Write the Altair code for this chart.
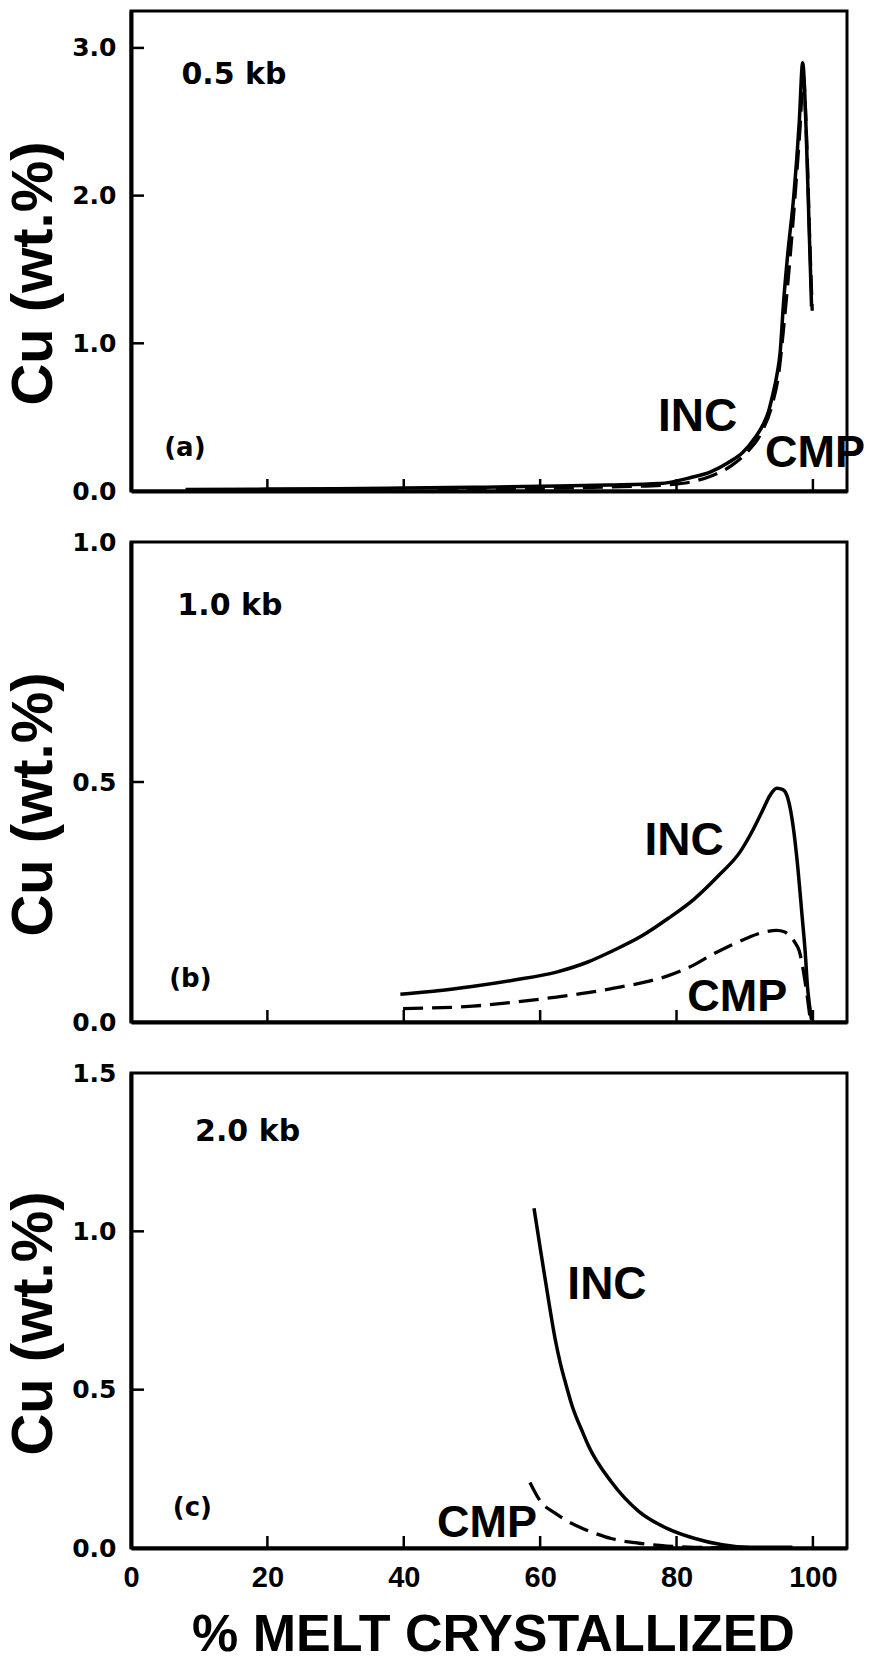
import altair as alt
import pandas as pd

FONT = "Liberation Sans"
FONT2 = "DejaVu Sans"

# ---------------- data ----------------
X_TICKS = [20, 40, 60, 80, 100]
X_LABELS = [0, 20, 40, 60, 80, 100]

# (a) 0.5 kb
INC_A_X = [8, 20, 30, 40, 50, 60, 70, 77.5, 82, 85, 87.5, 89.7, 91.5, 92.7, 93.5, 94.1, 94.7, 95.2, 95.7, 96.3, 97.2, 98.0, 98.5, 99.0, 99.4, 99.8]
INC_A_Y = [0.01, 0.013, 0.016, 0.02, 0.025, 0.032, 0.04, 0.05, 0.09, 0.13, 0.19, 0.26, 0.36, 0.45, 0.54, 0.65, 0.78, 0.94, 1.28, 1.6, 2.0, 2.5, 2.9, 2.45, 1.85, 1.25]
CMP_A_X = [45, 55, 65, 72, 78, 82, 85, 88, 90.5, 92.5, 94, 95, 95.8, 96.5, 97.3, 98.1, 98.6, 99.1, 99.5, 99.9]
CMP_A_Y = [0.01, 0.015, 0.022, 0.03, 0.04, 0.06, 0.1, 0.17, 0.27, 0.4, 0.58, 0.8, 1.15, 1.5, 1.95, 2.45, 2.8, 2.35, 1.75, 1.22]

# (b) 1.0 kb
INC_B_X = [39.5, 45, 50, 56, 62.4, 67, 70.6, 75, 78.7, 82.5, 86.1, 89.4, 91.2, 92.6, 93.7, 94.7, 95.6, 96.3, 97.1, 97.8, 98.4, 98.9, 99.2, 99.5, 99.8]
INC_B_Y = [0.058, 0.065, 0.074, 0.087, 0.104, 0.125, 0.148, 0.18, 0.215, 0.255, 0.304, 0.356, 0.40, 0.44, 0.472, 0.487, 0.484, 0.467, 0.408, 0.32, 0.223, 0.14, 0.074, 0.035, 0.004]
CMP_B_X = [39.9, 50.1, 56, 62.4, 67, 70.6, 75, 78.7, 82, 85.3, 88, 90.2, 92.5, 94.7, 95.8, 96.7, 97.4, 98.0, 98.5, 98.8, 99.2, 99.6]
CMP_B_Y = [0.028, 0.033, 0.041, 0.052, 0.061, 0.070, 0.082, 0.096, 0.115, 0.141, 0.16, 0.174, 0.186, 0.191, 0.188, 0.178, 0.165, 0.148, 0.115, 0.089, 0.05, 0.007]

# (c) 2.0 kb
INC_C_X = [59.1, 60.1, 61.4, 62.2, 63.0, 63.8, 64.6, 66.3, 67.1, 70.4, 74.5, 78.6, 82.7, 86.7, 90.8, 97]
INC_C_Y = [1.073, 0.935, 0.76, 0.66, 0.58, 0.515, 0.455, 0.362, 0.322, 0.21, 0.115, 0.062, 0.03, 0.01, 0.002, 0.002]
CMP_C_X = [58.5, 60.1, 62.2, 64, 66.3, 68.5, 70.4, 74.5, 78.6, 82.7, 88, 95]
CMP_C_Y = [0.207, 0.146, 0.110, 0.085, 0.061, 0.043, 0.030, 0.015, 0.006, 0.002, 0.001, 0.001]

PRESSURES = ["0.5 kb", "1.0 kb", "2.0 kb"]
PANEL_TAGS = ["(a)", "(b)", "(c)"]
Y_DOMAINS = [[0, 3.25], [0, 1.0], [0, 1.5]]
Y_LABELS = [[0, 1, 2, 3], [0, 0.5, 1.0], [0, 0.5, 1.0, 1.5]]
Y_TICKS = [[1, 2, 3], [0.5], [0.5, 1.0]]

# label positions (data coords)
PRESS_POS = [(7.4, 2.82), (6.8, 0.866), (9.4, 1.315)]
TAG_POS = [(7.9, 0.29), (8.7, 0.09), (9.0, 0.125)]
INC_POS = [(83.1, 0.50), (81.1, 0.378), (69.8, 0.83)]
CMP_POS = [(100.3, 0.26), (88.9, 0.052), (52.2, 0.079)]

HEIGHTS = [480, 480, 475]
TITLE_Y = [262, 262, 250]
W = 716


def panel(i, inc_x, inc_y, cmp_x, cmp_y, bottom):
    H = HEIGHTS[i]
    xdom = [0, 105]
    ydom = Y_DOMAINS[i]
    xscale = alt.Scale(domain=xdom, nice=False, zero=False)
    yscale = alt.Scale(domain=ydom, nice=False)

    if bottom:
        xaxis = alt.Axis(values=X_LABELS, format="d", ticks=False, tickSize=0, grid=False,
                         domain=True, domainColor="black", domainWidth=4,
                         labelFont=FONT, labelFontSize=29, labelFontWeight="bold", labelColor="black",
                         labelPadding=15, labelFlush=False, labelOverlap=False,
                         title="% MELT CRYSTALLIZED", titleFont=FONT, titleFontSize=52,
                         titleFontWeight="bold", titleColor="black",
                         titleX=362, titleY=102, titleAlign="center", titleBaseline="alphabetic")
    else:
        xaxis = alt.Axis(labels=False, ticks=False, tickSize=0, grid=False, domain=True,
                         domainColor="black", domainWidth=4, title=None)

    yaxis = alt.Axis(values=Y_LABELS[i], format=".1f", ticks=False, tickSize=0, grid=False,
                     domain=True, domainColor="black", domainWidth=4,
                     labelFont=FONT2, labelFontSize=25, labelFontWeight="bold", labelColor="black",
                     labelPadding=15, labelFlush=False, labelOverlap=False,
                     title="Cu   (wt.%)", titleFont=FONT, titleFontSize=58, titleFontWeight="bold",
                     titleColor="black", titleX=-80, titleY=TITLE_Y[i], titleAlign="center",
                     titleBaseline="alphabetic")

    inc = pd.DataFrame({"x": inc_x, "y": inc_y, "o": range(len(inc_x))})
    cmp_ = pd.DataFrame({"x": cmp_x, "y": cmp_y, "o": range(len(cmp_x))})

    base_inc = alt.Chart(inc).mark_line(color="black", strokeWidth=3.5, interpolate="monotone").encode(
        x=alt.X("x:Q", scale=xscale, axis=xaxis),
        y=alt.Y("y:Q", scale=yscale, axis=yaxis),
        order="o:Q",
    )
    line_cmp = alt.Chart(cmp_).mark_line(color="black", strokeWidth=3.3, strokeDash=[20, 9],
                                         interpolate="monotone").encode(
        x=alt.X("x:Q", scale=xscale),
        y=alt.Y("y:Q", scale=yscale),
        order="o:Q",
    )

    xt = pd.DataFrame({"x": X_TICKS})
    xticks = alt.Chart(xt).mark_rule(color="black", strokeWidth=2.5).encode(
        x=alt.X("x:Q", scale=xscale), y=alt.value(H), y2=alt.value(H - 12))
    yt = pd.DataFrame({"y": Y_TICKS[i]})
    yticks = alt.Chart(yt).mark_rule(color="black", strokeWidth=2.5).encode(
        y=alt.Y("y:Q", scale=yscale), x=alt.value(0), x2=alt.value(13))

    def txt(pos, text, size, align, font):
        d = pd.DataFrame({"x": [pos[0]], "y": [pos[1]], "t": [text]})
        return alt.Chart(d).mark_text(font=font, fontSize=size, fontWeight="bold", color="black",
                                      align=align, baseline="middle").encode(
            x=alt.X("x:Q", scale=xscale), y=alt.Y("y:Q", scale=yscale), text="t:N")

    layers = [base_inc, line_cmp, xticks, yticks,
              txt(PRESS_POS[i], PRESSURES[i], 30, "left", FONT2),
              txt(TAG_POS[i], PANEL_TAGS[i], 26, "center", FONT2),
              txt(INC_POS[i], "INC", 46, "center", FONT),
              txt(CMP_POS[i], "CMP", 45, "center", FONT)]
    return alt.layer(*layers).properties(width=W, height=H)


pa = panel(0, INC_A_X, INC_A_Y, CMP_A_X, CMP_A_Y, False)
pb = panel(1, INC_B_X, INC_B_Y, CMP_B_X, CMP_B_Y, False)
pc = panel(2, INC_C_X, INC_C_Y, CMP_C_X, CMP_C_Y, True)

chart = alt.vconcat(pa, pb, pc, spacing=51, bounds="flush").properties(
    padding={"left": 3, "top": 9, "right": 0, "bottom": 0},
    background="white",
).configure_view(stroke="black", strokeWidth=3)

chart.save("out.html", embed_options={"renderer": "svg", "actions": False})
